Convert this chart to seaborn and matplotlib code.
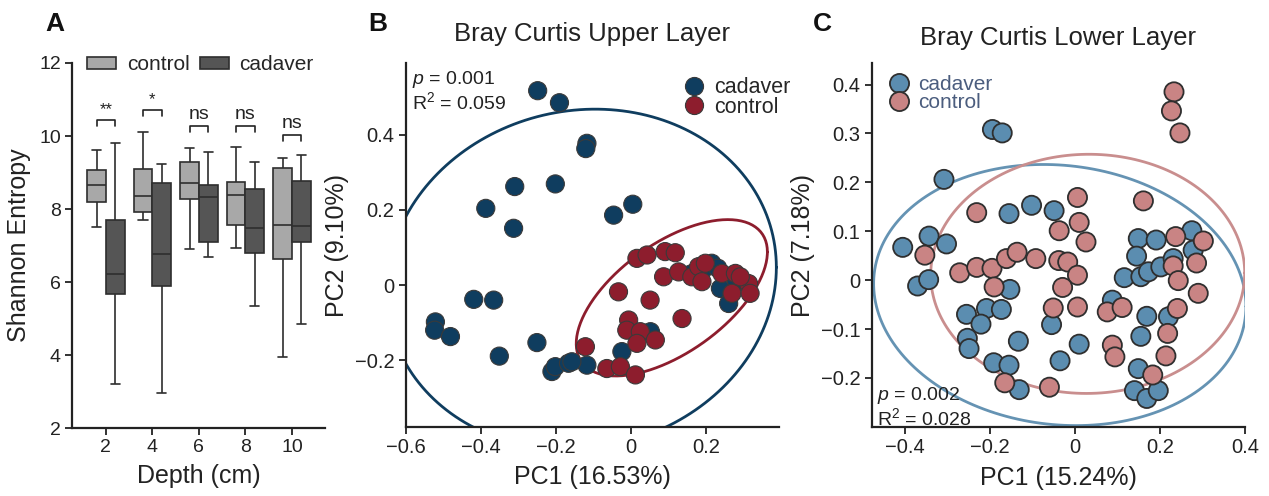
import numpy as np
import pandas as pd
import matplotlib
matplotlib.use("Agg")
import matplotlib.pyplot as plt
from matplotlib.ticker import FuncFormatter
import seaborn as sns

depths = [2, 4, 6, 8, 10]
groups_a = ["control", "cadaver"]
control_min = [7.52, 7.70, 6.90, 6.94, 3.95]
control_q1 = [8.18, 7.91, 8.28, 7.56, 6.62]
control_med = [8.66, 8.37, 8.72, 8.39, 7.56]
control_q3 = [9.07, 9.09, 9.28, 8.73, 9.13]
control_max = [9.62, 10.11, 9.67, 9.70, 9.39]
cadaver_min = [3.20, 2.97, 6.69, 5.35, 4.85]
cadaver_q1 = [5.67, 5.89, 7.09, 6.79, 7.11]
cadaver_med = [6.22, 6.77, 8.34, 7.47, 7.54]
cadaver_q3 = [7.70, 8.71, 8.67, 8.56, 8.76]
cadaver_max = [9.82, 9.24, 9.56, 9.30, 9.47]
sig_labels = ["**", "*", "ns", "ns", "ns"]
sig_heights = [10.44, 10.72, 10.28, 10.28, 10.03]

# ---------------- Panel B data (upper layer PCoA) ----------------
upper_cad_x = [-0.249, -0.191, -0.118, -0.121, -0.310, -0.202, -0.387, -0.313, -0.047, 0.004,
               -0.419, -0.366, -0.521, -0.523, -0.481, -0.251, -0.351, -0.211, -0.202, -0.167,
               -0.118, -0.158, -0.025, 0.051, 0.214, 0.237, 0.259, 0.160, 0.190, 0.280, 0.230]
upper_cad_y = [0.517, 0.485, 0.377, 0.363, 0.262, 0.269, 0.204, 0.151, 0.186, 0.215,
               -0.038, -0.040, -0.098, -0.120, -0.137, -0.153, -0.189, -0.230, -0.217, -0.208,
               -0.213, -0.204, -0.177, -0.124, 0.058, -0.009, -0.049, 0.030, 0.040, 0.010, 0.045]
upper_ctl_x = [0.015, 0.042, 0.090, 0.117, 0.086, 0.126, 0.161, 0.179, 0.188, 0.197,
               0.241, 0.277, 0.268, 0.312, 0.316, 0.290, -0.034, 0.050, 0.135, -0.007,
               -0.012, 0.024, 0.015, 0.064, -0.122, -0.065, -0.029, 0.011]
upper_ctl_y = [0.071, 0.080, 0.089, 0.086, 0.022, 0.035, 0.022, 0.049, 0.009, 0.058,
               0.031, 0.031, -0.022, 0.004, -0.022, 0.022, -0.018, -0.040, -0.089, -0.093,
               -0.120, -0.124, -0.155, -0.146, -0.164, -0.222, -0.217, -0.239]

# ---------------- Panel C data (lower layer PCoA) ----------------
lower_cad_x = [-0.405, -0.343, -0.302, -0.308, -0.370, -0.344, -0.194, -0.171, -0.155, -0.102,
               -0.049, -0.153, -0.255, -0.208, -0.173, -0.221, -0.253, -0.249, -0.133, -0.191,
               -0.155, -0.131, -0.055, 0.010, -0.035, 0.116, 0.155, 0.173, 0.202, 0.149,
               0.191, 0.145, 0.231, 0.275, 0.278, 0.088, 0.169, 0.220, 0.155, 0.149,
               0.140, 0.169, 0.196]
lower_cad_y = [0.067, 0.090, 0.074, 0.206, -0.012, 0.001, 0.308, 0.301, 0.136, 0.153,
               0.142, -0.019, -0.070, -0.058, -0.060, -0.090, -0.119, -0.140, -0.125, -0.169,
               -0.174, -0.224, -0.091, -0.131, -0.165, 0.005, 0.007, 0.017, 0.027, 0.085,
               0.082, 0.049, 0.044, 0.101, 0.061, -0.041, -0.074, -0.075, -0.115, -0.181,
               -0.226, -0.242, -0.226]
lower_ctl_x = [0.233, 0.227, 0.247, 0.006, 0.161, -0.231, -0.353, -0.271, -0.231, -0.195,
               -0.161, -0.136, -0.092, -0.038, -0.017, 0.006, 0.010, 0.026, -0.037, -0.029,
               -0.190, -0.051, 0.006, 0.076, 0.111, 0.088, 0.094, 0.237, 0.302, 0.286,
               0.231, 0.243, 0.290, 0.241, 0.218, 0.214, 0.183, -0.165, -0.060]
lower_ctl_y = [0.385, 0.346, 0.301, 0.169, 0.162, 0.138, 0.051, 0.015, 0.026, 0.024,
               0.044, 0.057, 0.044, 0.040, 0.037, 0.010, 0.118, 0.078, 0.101, -0.015,
               -0.014, -0.057, -0.055, -0.065, -0.056, -0.133, -0.157, 0.089, 0.080, 0.035,
               0.029, -0.001, -0.027, -0.058, -0.109, -0.155, -0.194, -0.210, -0.219]

# ---------------- style ----------------
sns.set_theme(style="ticks")
plt.rcParams["font.family"] = ["Liberation Sans", "DejaVu Sans"]
plt.rcParams["mathtext.fontset"] = "custom"
plt.rcParams["mathtext.rm"] = "Liberation Sans"
plt.rcParams["mathtext.it"] = "Liberation Sans:italic"
plt.rcParams["axes.unicode_minus"] = True
INK = "#222222"

fig = plt.figure(figsize=(12.69, 4.96), dpi=100)
axA = fig.add_axes([0.0567, 0.137, 0.1994, 0.736])
axB = fig.add_axes([0.3197, 0.1395, 0.2939, 0.733])
axC = fig.add_axes([0.6869, 0.1385, 0.2942, 0.7335])


def style_axes(ax, tick_size):
    sns.despine(ax=ax)
    for s in ("left", "bottom"):
        ax.spines[s].set_linewidth(1.6)
        ax.spines[s].set_color(INK)
    ax.tick_params(axis="both", direction="out", length=5, width=1.3,
                   color=INK, labelcolor=INK, labelsize=tick_size, pad=3)


def num_fmt(v, _pos=None):
    if abs(v) < 1e-9:
        return "0"
    return f"{v:.1f}".replace("-", "\u2212")


# ---------------- Panel A ----------------
rows = []
for i, d in enumerate(depths):
    for g, stats in (("control", (control_min, control_q1, control_med, control_q3, control_max)),
                     ("cadaver", (cadaver_min, cadaver_q1, cadaver_med, cadaver_q3, cadaver_max))):
        for arr in stats:
            rows.append({"depth": str(d), "group": g, "value": arr[i]})
dfA = pd.DataFrame(rows)

sns.boxplot(data=dfA, x="depth", y="value", hue="group", hue_order=groups_a,
            order=[str(d) for d in depths], whis=(0, 100), width=0.8, gap=0,
            palette={"control": "#a8a8a8", "cadaver": "#555555"},
            linecolor="#2e2e2e", linewidth=1.2, fliersize=0, ax=axA)
axA.set_ylim(2, 12)
axA.set_xlim(-0.73, 4.71)
axA.set_yticks([2, 4, 6, 8, 10, 12])
style_axes(axA, 14)
axA.set_xlabel("Depth (cm)", fontsize=18, color=INK, labelpad=6)
axA.set_ylabel("Shannon Entropy", fontsize=18, color=INK, labelpad=6)

for i, (lab, h) in enumerate(zip(sig_labels, sig_heights)):
    x0, x1 = i - 0.2, i + 0.2
    axA.plot([x0, x0, x1, x1], [h - 0.17, h, h, h - 0.17], color=INK, lw=1.2)
    axA.text(i, h + 0.08, lab, ha="center", va="bottom", fontsize=14 if lab == "ns" else 12,
             color=INK)

hA, lA = axA.get_legend_handles_labels()
axA.legend(hA, lA, ncol=2, loc="center left", bbox_to_anchor=(0.06, 0.995), frameon=False,
           fontsize=15, handlelength=1.4, handleheight=0.55, handletextpad=0.5,
           columnspacing=0.5, borderpad=0, borderaxespad=0)


# ---------------- stat_ellipse (type "t": robust multivariate-t covariance) -------------
def cov_trob(xy, nu=5, maxit=50, tol=0.01):
    n, p = xy.shape
    loc = xy.mean(axis=0)
    w = np.ones(n)
    for _ in range(maxit):
        w0 = w
        X = xy - loc
        _, d, vt = np.linalg.svd(np.sqrt(w / w.sum())[:, None] * X, full_matrices=False)
        wX = X @ vt.T @ np.diag(1 / d)
        Q = (wX ** 2).sum(axis=1)
        w = (nu + p) / (nu + Q)
        loc = (w[:, None] * xy).sum(axis=0) / w.sum()
        if np.all(np.abs(w - w0) < tol):
            break
    X = xy - loc
    cov = (np.sqrt(w)[:, None] * X).T @ (np.sqrt(w)[:, None] * X) / n
    return loc, cov


def add_ellipse(ax, x, y, color, level=0.90):
    xy = np.column_stack([x, y])
    n = len(xy)
    loc, cov = cov_trob(xy)
    dfd = n - 1
    qf = (dfd / 2) * ((1 - level) ** (-2 / dfd) - 1)   # F(2, dfd) quantile
    radius = np.sqrt(2 * qf)
    t = np.linspace(0, 2 * np.pi, 200)
    circle = np.column_stack([np.cos(t), np.sin(t)])
    chol = np.linalg.cholesky(cov).T
    pts = loc + radius * circle @ chol
    ax.plot(pts[:, 0], pts[:, 1], color=color, lw=2.0, zorder=1)


# ---------------- Panel B ----------------
dfB = pd.concat([
    pd.DataFrame({"PC1": upper_cad_x, "PC2": upper_cad_y, "group": "cadaver"}),
    pd.DataFrame({"PC1": upper_ctl_x, "PC2": upper_ctl_y, "group": "control"}),
])
palB = {"cadaver": "#0f3d5f", "control": "#8d1d2d"}
sns.scatterplot(data=dfB, x="PC1", y="PC2", hue="group", hue_order=["cadaver", "control"],
                palette=palB, s=170, edgecolor="#3a3a3a", linewidth=0.8, alpha=1, ax=axB,
                zorder=3)
add_ellipse(axB, upper_cad_x, upper_cad_y, palB["cadaver"])
add_ellipse(axB, upper_ctl_x, upper_ctl_y, palB["control"])
axB.set_xlim(-0.6, 0.392)
axB.set_ylim(-0.377, 0.59)
axB.set_xticks([-0.6, -0.4, -0.2, 0, 0.2])
axB.set_yticks([-0.2, 0, 0.2, 0.4])
axB.xaxis.set_major_formatter(FuncFormatter(num_fmt))
axB.yaxis.set_major_formatter(FuncFormatter(num_fmt))
style_axes(axB, 14.5)
axB.set_xlabel("PC1 (16.53%)", fontsize=18, color=INK, labelpad=6)
axB.set_ylabel("PC2 (9.10%)", fontsize=18, color=INK, labelpad=4)
axB.set_title("Bray Curtis Upper Layer", fontsize=18.5, color=INK, pad=16)
hB, lB = axB.get_legend_handles_labels()
axB.legend(hB, lB, loc="upper left", bbox_to_anchor=(0.75, 0.962), frameon=False,
           fontsize=15.5, handlelength=0.8, handletextpad=0.55, labelspacing=-0.05,
           borderpad=0, borderaxespad=0, markerscale=1.0)
axB.text(0.016, 0.955, "$p$ = 0.001", transform=axB.transAxes, fontsize=14, color=INK,
         ha="left", va="center")
axB.text(0.016, 0.893, "R$^2$ = 0.059", transform=axB.transAxes, fontsize=14, color=INK,
         ha="left", va="center")

# ---------------- Panel C ----------------
dfC = pd.concat([
    pd.DataFrame({"PC1": lower_cad_x, "PC2": lower_cad_y, "group": "cadaver"}),
    pd.DataFrame({"PC1": lower_ctl_x, "PC2": lower_ctl_y, "group": "control"}),
])
palC = {"cadaver": "#5b8db0", "control": "#c98484"}
sns.scatterplot(data=dfC, x="PC1", y="PC2", hue="group", hue_order=["cadaver", "control"],
                palette=palC, s=190, edgecolor="#2f2f2f", linewidth=1.3, alpha=1, ax=axC,
                zorder=3)
add_ellipse(axC, lower_cad_x, lower_cad_y, "#6593b3")
add_ellipse(axC, lower_ctl_x, lower_ctl_y, "#c98e8e")
axC.set_xlim(-0.478, 0.40)
axC.set_ylim(-0.301, 0.443)
axC.set_xticks([-0.4, -0.2, 0, 0.2, 0.4])
axC.set_yticks([-0.2, -0.1, 0, 0.1, 0.2, 0.3, 0.4])
axC.xaxis.set_major_formatter(FuncFormatter(num_fmt))
axC.yaxis.set_major_formatter(FuncFormatter(num_fmt))
style_axes(axC, 14.5)
axC.set_xlabel("PC1 (15.24%)", fontsize=18, color=INK, labelpad=6)
axC.set_ylabel("PC2 (7.18%)", fontsize=18, color=INK, labelpad=4)
axC.set_title("Bray Curtis Lower Layer", fontsize=18.5, color=INK, pad=13)
hC, lC = axC.get_legend_handles_labels()
legC = axC.legend(hC, lC, loc="upper left", bbox_to_anchor=(0.05, 0.967), frameon=False,
                  fontsize=15, handlelength=0.8, handletextpad=0.55, labelspacing=-0.05,
                  borderpad=0, borderaxespad=0)
for t in legC.get_texts():
    t.set_color("#4b5d7e")
axC.text(0.013, 0.088, "$p$ = 0.002", transform=axC.transAxes, fontsize=14, color=INK,
         ha="left", va="center")
axC.text(0.013, 0.026, "R$^2$ = 0.028", transform=axC.transAxes, fontsize=14, color=INK,
         ha="left", va="center")

# ---------------- panel letters ----------------
for letter, xpx in (("A", 45), ("B", 368), ("C", 813)):
    fig.text(xpx / 1269, 1 - 12 / 496, letter, fontsize=19, fontweight="bold",
             ha="left", va="top", color="#111111")

fig.savefig("out.png", dpi=100)
